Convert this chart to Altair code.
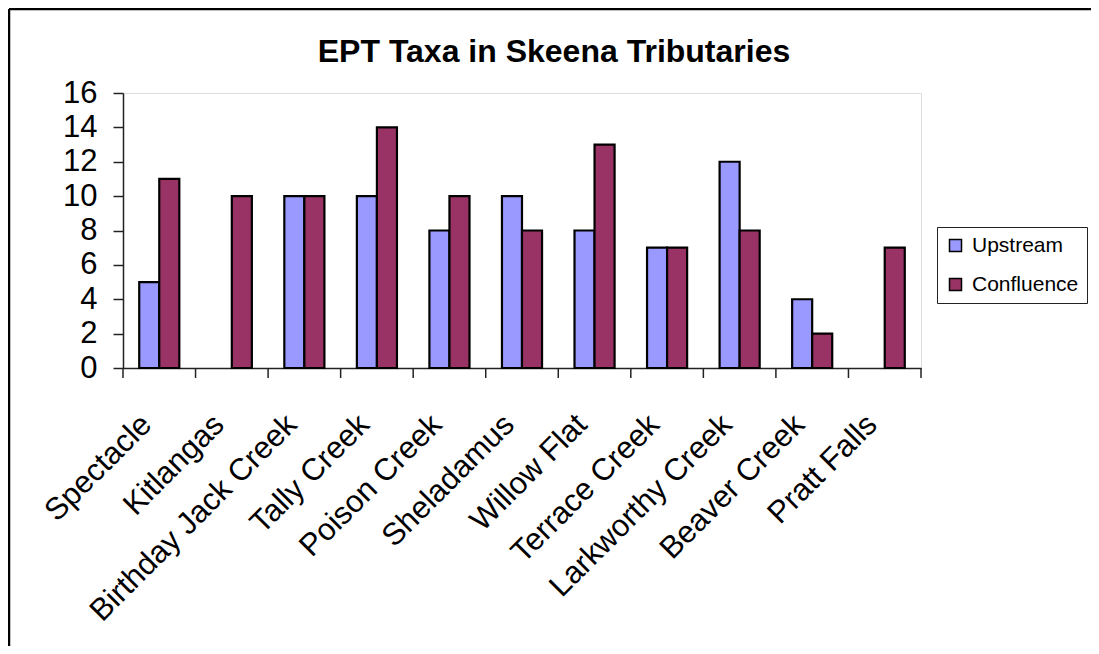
import altair as alt
import pandas as pd

sites = ["Spectacle", "Kitlangas", "Birthday Jack Creek", "Tally Creek", "Poison Creek",
         "Sheladamus", "Willow Flat", "Terrace Creek", "Larkworthy Creek", "Beaver Creek", "Pratt Falls"]
upstream = [5, None, 10, 10, 8, 10, 8, 7, 12, 4, None]
confluence = [11, 10, 10, 14, 10, 8, 13, 7, 8, 2, 7]
series = ["Upstream", "Confluence"]
colors = ["#9999FF", "#993366"]
title_text = "EPT Taxa in Skeena Tributaries"
y_ticks = [0, 2, 4, 6, 8, 10, 12, 14, 16]

rows = []
for s, u, c in zip(sites, upstream, confluence):
    if u is not None:
        rows.append({"site": s, "series": "Upstream", "value": u})
    if c is not None:
        rows.append({"site": s, "series": "Confluence", "value": c})
df = pd.DataFrame(rows)
df_sites = pd.DataFrame({"site": sites})

W, H = 798, 275
FONT = "Liberation Sans"

x_axis = alt.Axis(title=None, ticks=False, labelAngle=-45, labelAlign="right",
                  labelBaseline="alphabetic", labelPadding=58, labelOffset=-6,
                  labelFontSize=31,
                  labelColor="black", labelFont=FONT, domainColor="#222222",
                  domainWidth=1.5, labelLimit=1000, labelOverlap=False)

bars = alt.Chart(df).mark_bar(stroke="black", strokeWidth=2.2, opacity=1).encode(
    x=alt.X("site:N", sort=sites,
            scale=alt.Scale(paddingInner=0, paddingOuter=0),
            axis=x_axis),
    xOffset=alt.XOffset("series:N", sort=series,
                        scale=alt.Scale(domain=series, paddingInner=0, paddingOuter=0.81)),
    y=alt.Y("value:Q", scale=alt.Scale(domain=[0, 16], nice=False),
            axis=alt.Axis(title=None, values=y_ticks, grid=False, tickSize=10,
                          tickColor="#222222", tickWidth=1.5, domainColor="#222222",
                          domainWidth=1.5, labelPadding=16, labelFontSize=31,
                          labelColor="black", labelFont=FONT)),
    color=alt.Color("series:N", sort=series,
                    scale=alt.Scale(domain=series, range=colors),
                    legend=alt.Legend(title=None, orient="none", legendX=814, legendY=134,
                                      symbolType="square", symbolSize=144,
                                      symbolStrokeColor="black", symbolStrokeWidth=1.5,
                                      symbolOpacity=1,
                                      labelFontSize=21, labelFont=FONT, labelColor="black",
                                      labelOffset=6, rowPadding=17, padding=8,
                                      strokeColor="#222222")),
)

ticks = alt.Chart(df_sites).mark_rule(color="#222222", strokeWidth=1.5).encode(
    x=alt.X("site:N", sort=sites, bandPosition=0, axis=x_axis),
    y=alt.value(H),
    y2=alt.value(H + 10),
)
end_tick = alt.Chart(pd.DataFrame({"a": [0]})).mark_rule(color="#222222", strokeWidth=1.5).encode(
    x=alt.value(W), y=alt.value(H), y2=alt.value(H + 10)
)

title = alt.Chart(pd.DataFrame({"t": [title_text]})).mark_text(
    fontSize=32, fontWeight="bold", font=FONT, color="black", align="center",
    baseline="alphabetic"
).encode(text="t:N", x=alt.value(431), y=alt.value(-31))

frame_top = alt.Chart(pd.DataFrame({"a": [0]})).mark_rule(color="black", strokeWidth=2.5).encode(
    x=alt.value(-114), x2=alt.value(W + 170), y=alt.value(-84)
)
frame_left = alt.Chart(pd.DataFrame({"a": [0]})).mark_rule(color="black", strokeWidth=2.5).encode(
    x=alt.value(-114), y=alt.value(-84), y2=alt.value(H + 278)
)

chart = alt.layer(bars, ticks, end_tick, title, frame_top, frame_left).properties(
    width=W, height=H,
    autosize=alt.AutoSizeParams(type="none"),
    padding={"left": 115, "top": 85, "right": 170, "bottom": 278},
    background="white",
).configure_view(stroke="#808080", strokeWidth=2.5).configure(font=FONT)

chart.save("out.html", embed_options={"renderer": "svg", "actions": False})
